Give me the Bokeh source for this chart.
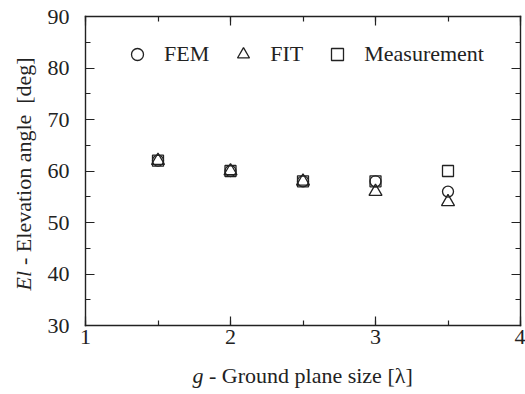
import math
from bokeh.plotting import figure
from bokeh.models import (LinearAxis, SingleIntervalTicker, Label, Legend, LegendItem,
                          ColumnDataSource, Range1d)
from bokeh.embed import file_html
from bokeh.resources import INLINE

# ---- data ----
ground_size = [1.5, 2.0, 2.5, 3.0, 3.5]
fem = [62, 60, 58, 58, 56]
fit = [62, 60, 58, 56, 54]
measurement = [62, 60, 58, 58, 60]
series_names = ["FEM", "FIT", "Measurement"]
x_ticks_bounds = (1, 4)
y_ticks_bounds = (30, 90)

FONT = "Liberation Serif"
INK = "#222222"

# canvas and placement of the plot box inside it (pixels)
W, H = 525, 394
BOX_L, BOX_R, BOX_T, BOX_B = 85, 520, 16, 325
kx = (BOX_R - BOX_L) / (x_ticks_bounds[1] - x_ticks_bounds[0])
ky = (BOX_B - BOX_T) / (y_ticks_bounds[1] - y_ticks_bounds[0])
x0 = x_ticks_bounds[0] - BOX_L / kx
y1 = y_ticks_bounds[1] + BOX_T / ky

def dx(px):
    return x0 + px / kx

def dy(py):
    return y1 - py / ky

p = figure(width=W, height=H, output_backend="svg", toolbar_location=None,
           x_range=Range1d(x0, x0 + W / kx), y_range=Range1d(y1 - H / ky, y1),
           x_axis_location=None, y_axis_location=None,
           min_border_left=0, min_border_right=0, min_border_top=0, min_border_bottom=0)
p.grid.visible = False
p.outline_line_color = None
p.background_fill_color = "white"
p.border_fill_color = "white"

def make_axis(kind, loc, bounds, interval, labels):
    ax = LinearAxis(fixed_location=loc, bounds=bounds,
                    ticker=SingleIntervalTicker(interval=interval, num_minor_ticks=2))
    ax.major_tick_in = 9
    ax.major_tick_out = 0
    ax.minor_tick_in = 5
    ax.minor_tick_out = 0
    ax.axis_line_color = INK
    ax.axis_line_width = 1.4
    ax.axis_line_cap = "square"
    ax.major_tick_line_color = INK
    ax.minor_tick_line_color = INK
    ax.major_tick_line_width = 1.2
    ax.minor_tick_line_width = 1.2
    ax.major_label_text_font = FONT
    ax.major_label_text_font_size = "22px"
    ax.major_label_text_color = INK if labels else None
    p.add_layout(ax, kind)
    return ax

bottom = make_axis("below", y_ticks_bounds[0], x_ticks_bounds, 1, True)
left = make_axis("left", x_ticks_bounds[0], y_ticks_bounds, 10, True)
make_axis("above", y_ticks_bounds[1], x_ticks_bounds, 1, False)
make_axis("right", x_ticks_bounds[1], y_ticks_bounds, 10, False)
bottom.major_label_standoff = 4
left.major_label_standoff = 16

src = ColumnDataSource(dict(x=ground_size, fem=fem, fit=fit, meas=measurement))
r_fem = p.scatter("x", "fem", source=src, marker="circle", size=11,
                  fill_color=None, line_color=INK, line_width=1.3)
r_fit = p.scatter("x", "fit", source=src, marker="triangle", size=13,
                  fill_color=None, line_color=INK, line_width=1.3)
r_meas = p.scatter("x", "meas", source=src, marker="square", size=11,
                   fill_color=None, line_color=INK, line_width=1.3)

legend = Legend(items=[LegendItem(label=series_names[0], renderers=[r_fem]),
                       LegendItem(label=series_names[1], renderers=[r_fit]),
                       LegendItem(label=series_names[2], renderers=[r_meas])],
                orientation="horizontal", location=(122, 325),
                border_line_color=None, background_fill_alpha=0,
                label_text_font=FONT, label_text_font_size="22px",
                label_text_color=INK, glyph_width=30, glyph_height=30,
                label_standoff=12, spacing=19, padding=0, margin=0)
p.add_layout(legend)

# axis titles: italic variable symbol followed by regular text
lab_kw = dict(text_font=FONT, text_font_size="22px", text_color=INK, text_baseline="alphabetic")
XSPLIT, XBASE = 203, 375
p.add_layout(Label(x=dx(XSPLIT), y=dy(XBASE), text="g", text_font_style="italic",
                   text_align="right", **lab_kw))
p.add_layout(Label(x=dx(XSPLIT), y=dy(XBASE), text="\u00a0- Ground plane size [λ]",
                   text_align="left", **lab_kw))
YBASE, YSTART = 23, 290
p.add_layout(Label(x=dx(YBASE), y=dy(YSTART), text="El", angle=math.pi / 2,
                   text_font_style="italic", text_align="left", **lab_kw))
p.add_layout(Label(x=dx(YBASE), y=dy(YSTART - 20), text="\u00a0- Elevation angle\u00a0 [deg]",
                   angle=math.pi / 2, text_align="left", **lab_kw))

open("out.html", "w").write(file_html(p, INLINE))
